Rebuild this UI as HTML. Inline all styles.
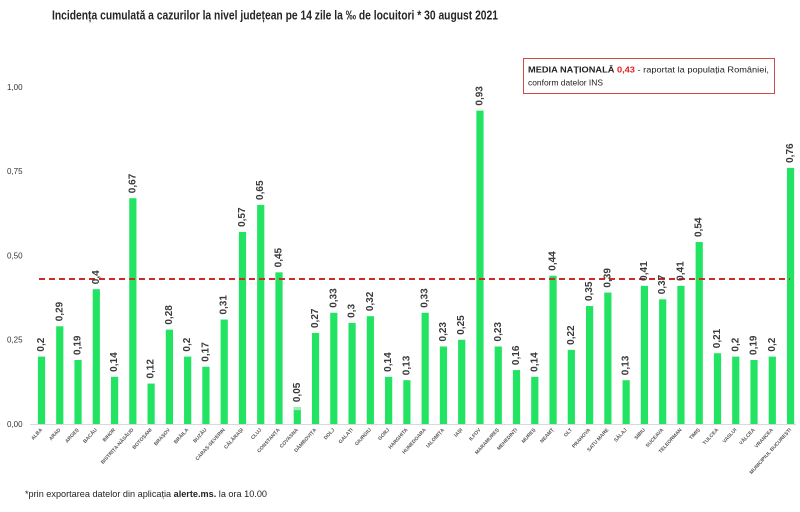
<!DOCTYPE html>
<html><head><meta charset="utf-8"><style>
html,body{margin:0;padding:0;background:#fff;}
svg{display:block;}
text{font-family:"Liberation Sans",Arial,sans-serif;}
.v{font-size:10px;font-weight:bold;fill:#3a3a3a;}
.x{font-size:5px;font-weight:bold;fill:#555;}
.y{font-size:8px;fill:#333;}
</style></head><body>
<svg width="800" height="512" viewBox="0 0 800 512" xmlns="http://www.w3.org/2000/svg">
<rect width="800" height="512" fill="#fff"/>
<text x="52" y="19.5" font-size="13" font-weight="bold" fill="#262626" textLength="446" lengthAdjust="spacingAndGlyphs">Incidența cumulată a cazurilor la nivel județean pe 14 zile la ‰ de locuitori * 30 august 2021</text>

<g class="y">
<text x="7" y="90">1,00</text>
<text x="7" y="174">0,75</text>
<text x="7" y="258.5">0,50</text>
<text x="7" y="342.5">0,25</text>
<text x="7" y="427">0,00</text>
</g>
<line x1="30" y1="424.5" x2="796" y2="424.5" stroke="#d9d9d9" stroke-width="1"/>

<g fill="#22e362">
<rect x="37.9" y="356.6" width="7.2" height="67.4"/>
<rect x="56.17" y="326.27" width="7.2" height="97.73"/>
<rect x="74.44" y="359.97" width="7.2" height="64.03"/>
<rect x="92.71" y="289.2" width="7.2" height="134.8"/>
<rect x="110.98" y="376.82" width="7.2" height="47.18"/>
<rect x="129.25" y="198.21" width="7.2" height="225.79"/>
<rect x="147.52" y="383.56" width="7.2" height="40.44"/>
<rect x="165.79" y="329.64" width="7.2" height="94.36"/>
<rect x="184.06" y="356.6" width="7.2" height="67.4"/>
<rect x="202.33" y="366.71" width="7.2" height="57.29"/>
<rect x="220.6" y="319.53" width="7.2" height="104.47"/>
<rect x="238.87" y="231.91" width="7.2" height="192.09"/>
<rect x="257.14" y="204.95" width="7.2" height="219.05"/>
<rect x="275.41" y="272.35" width="7.2" height="151.65"/>
<rect x="293.68" y="407.15" width="7.2" height="16.85"/>
<rect x="311.95" y="333.01" width="7.2" height="90.99"/>
<rect x="330.22" y="312.79" width="7.2" height="111.21"/>
<rect x="348.49" y="322.9" width="7.2" height="101.1"/>
<rect x="366.76" y="316.16" width="7.2" height="107.84"/>
<rect x="385.03" y="376.82" width="7.2" height="47.18"/>
<rect x="403.3" y="380.19" width="7.2" height="43.81"/>
<rect x="421.57" y="312.79" width="7.2" height="111.21"/>
<rect x="439.84" y="346.49" width="7.2" height="77.51"/>
<rect x="458.11" y="339.75" width="7.2" height="84.25"/>
<rect x="476.38" y="110.59" width="7.2" height="313.41"/>
<rect x="494.65" y="346.49" width="7.2" height="77.51"/>
<rect x="512.92" y="370.08" width="7.2" height="53.92"/>
<rect x="531.19" y="376.82" width="7.2" height="47.18"/>
<rect x="549.46" y="275.72" width="7.2" height="148.28"/>
<rect x="567.73" y="349.86" width="7.2" height="74.14"/>
<rect x="586" y="306.05" width="7.2" height="117.95"/>
<rect x="604.27" y="292.57" width="7.2" height="131.43"/>
<rect x="622.54" y="380.19" width="7.2" height="43.81"/>
<rect x="640.81" y="285.83" width="7.2" height="138.17"/>
<rect x="659.08" y="299.31" width="7.2" height="124.69"/>
<rect x="677.35" y="285.83" width="7.2" height="138.17"/>
<rect x="695.62" y="242.02" width="7.2" height="181.98"/>
<rect x="713.89" y="353.23" width="7.2" height="70.77"/>
<rect x="732.16" y="356.6" width="7.2" height="67.4"/>
<rect x="750.43" y="359.97" width="7.2" height="64.03"/>
<rect x="768.7" y="356.6" width="7.2" height="67.4"/>
<rect x="786.97" y="167.88" width="7.2" height="256.12"/>
</g>
<rect x="293.68" y="407.15" width="7.2" height="3" fill="#9ff0b8"/>

<line x1="39" y1="279" x2="790" y2="279" stroke="#cf2a2a" stroke-width="2" stroke-dasharray="6 4"/>

<g class="v">
<text transform="translate(44,351.6) rotate(-90)">0,2</text>
<text transform="translate(62.27,321.27) rotate(-90)">0,29</text>
<text transform="translate(80.54,354.97) rotate(-90)">0,19</text>
<text transform="translate(98.81,284.2) rotate(-90)">0,4</text>
<text transform="translate(117.08,371.82) rotate(-90)">0,14</text>
<text transform="translate(135.35,193.21) rotate(-90)">0,67</text>
<text transform="translate(153.62,378.56) rotate(-90)">0,12</text>
<text transform="translate(171.89,324.64) rotate(-90)">0,28</text>
<text transform="translate(190.16,351.6) rotate(-90)">0,2</text>
<text transform="translate(208.43,361.71) rotate(-90)">0,17</text>
<text transform="translate(226.7,314.53) rotate(-90)">0,31</text>
<text transform="translate(244.97,226.91) rotate(-90)">0,57</text>
<text transform="translate(263.24,199.95) rotate(-90)">0,65</text>
<text transform="translate(281.51,267.35) rotate(-90)">0,45</text>
<text transform="translate(299.78,402.15) rotate(-90)">0,05</text>
<text transform="translate(318.05,328.01) rotate(-90)">0,27</text>
<text transform="translate(336.32,307.79) rotate(-90)">0,33</text>
<text transform="translate(354.59,317.9) rotate(-90)">0,3</text>
<text transform="translate(372.86,311.16) rotate(-90)">0,32</text>
<text transform="translate(391.13,371.82) rotate(-90)">0,14</text>
<text transform="translate(409.4,375.19) rotate(-90)">0,13</text>
<text transform="translate(427.67,307.79) rotate(-90)">0,33</text>
<text transform="translate(445.94,341.49) rotate(-90)">0,23</text>
<text transform="translate(464.21,334.75) rotate(-90)">0,25</text>
<text transform="translate(482.48,105.59) rotate(-90)">0,93</text>
<text transform="translate(500.75,341.49) rotate(-90)">0,23</text>
<text transform="translate(519.02,365.08) rotate(-90)">0,16</text>
<text transform="translate(537.29,371.82) rotate(-90)">0,14</text>
<text transform="translate(555.56,270.72) rotate(-90)">0,44</text>
<text transform="translate(573.83,344.86) rotate(-90)">0,22</text>
<text transform="translate(592.1,301.05) rotate(-90)">0,35</text>
<text transform="translate(610.37,287.57) rotate(-90)">0,39</text>
<text transform="translate(628.64,375.19) rotate(-90)">0,13</text>
<text transform="translate(646.91,280.83) rotate(-90)">0,41</text>
<text transform="translate(665.18,294.31) rotate(-90)">0,37</text>
<text transform="translate(683.45,280.83) rotate(-90)">0,41</text>
<text transform="translate(701.72,237.02) rotate(-90)">0,54</text>
<text transform="translate(719.99,348.23) rotate(-90)">0,21</text>
<text transform="translate(738.26,351.6) rotate(-90)">0,2</text>
<text transform="translate(756.53,354.97) rotate(-90)">0,19</text>
<text transform="translate(774.8,351.6) rotate(-90)">0,2</text>
<text transform="translate(793.07,162.88) rotate(-90)">0,76</text>
</g>

<g class="x" text-anchor="end">
<text transform="translate(42.5,430) rotate(-48)">ALBA</text>
<text transform="translate(60.77,430) rotate(-48)">ARAD</text>
<text transform="translate(79.04,430) rotate(-48)">ARGEȘ</text>
<text transform="translate(97.31,430) rotate(-48)">BACĂU</text>
<text transform="translate(115.58,430) rotate(-48)">BIHOR</text>
<text transform="translate(133.85,430) rotate(-48)">BISTRIȚA-NĂSĂUD</text>
<text transform="translate(152.12,430) rotate(-48)">BOTOȘANI</text>
<text transform="translate(170.39,430) rotate(-48)">BRAȘOV</text>
<text transform="translate(188.66,430) rotate(-48)">BRĂILA</text>
<text transform="translate(206.93,430) rotate(-48)">BUZĂU</text>
<text transform="translate(225.2,430) rotate(-48)">CARAȘ-SEVERIN</text>
<text transform="translate(243.47,430) rotate(-48)">CĂLĂRAȘI</text>
<text transform="translate(261.74,430) rotate(-48)">CLUJ</text>
<text transform="translate(280.01,430) rotate(-48)">CONSTANȚA</text>
<text transform="translate(298.28,430) rotate(-48)">COVASNA</text>
<text transform="translate(316.55,430) rotate(-48)">DÂMBOVIȚA</text>
<text transform="translate(334.82,430) rotate(-48)">DOLJ</text>
<text transform="translate(353.09,430) rotate(-48)">GALAȚI</text>
<text transform="translate(371.36,430) rotate(-48)">GIURGIU</text>
<text transform="translate(389.63,430) rotate(-48)">GORJ</text>
<text transform="translate(407.9,430) rotate(-48)">HARGHITA</text>
<text transform="translate(426.17,430) rotate(-48)">HUNEDOARA</text>
<text transform="translate(444.44,430) rotate(-48)">IALOMIȚA</text>
<text transform="translate(462.71,430) rotate(-48)">IAȘI</text>
<text transform="translate(480.98,430) rotate(-48)">ILFOV</text>
<text transform="translate(499.25,430) rotate(-48)">MARAMUREȘ</text>
<text transform="translate(517.52,430) rotate(-48)">MEHEDINȚI</text>
<text transform="translate(535.79,430) rotate(-48)">MUREȘ</text>
<text transform="translate(554.06,430) rotate(-48)">NEAMȚ</text>
<text transform="translate(572.33,430) rotate(-48)">OLT</text>
<text transform="translate(590.6,430) rotate(-48)">PRAHOVA</text>
<text transform="translate(608.87,430) rotate(-48)">SATU MARE</text>
<text transform="translate(627.14,430) rotate(-48)">SĂLAJ</text>
<text transform="translate(645.41,430) rotate(-48)">SIBIU</text>
<text transform="translate(663.68,430) rotate(-48)">SUCEAVA</text>
<text transform="translate(681.95,430) rotate(-48)">TELEORMAN</text>
<text transform="translate(700.22,430) rotate(-48)">TIMIȘ</text>
<text transform="translate(718.49,430) rotate(-48)">TULCEA</text>
<text transform="translate(736.76,430) rotate(-48)">VASLUI</text>
<text transform="translate(755.03,430) rotate(-48)">VÂLCEA</text>
<text transform="translate(773.3,430) rotate(-48)">VRANCEA</text>
<text transform="translate(791.57,430) rotate(-48)">MUNICIPIUL BUCUREȘTI</text>
</g>

<rect x="523.5" y="58.5" width="251" height="35" fill="#fff" stroke="#d24b4b" stroke-width="1"/>
<text x="528" y="72.5" font-size="8.5" fill="#222" textLength="241" lengthAdjust="spacingAndGlyphs"><tspan font-weight="bold">MEDIA NAȚIONALĂ </tspan><tspan font-weight="bold" fill="#e02020">0,43</tspan><tspan> - raportat la populația României,</tspan></text>
<text x="528" y="85.5" font-size="8.5" fill="#222" textLength="75" lengthAdjust="spacingAndGlyphs">conform datelor INS</text>

<text x="25" y="497" font-size="9.5" fill="#222" textLength="242" lengthAdjust="spacingAndGlyphs">*prin exportarea datelor din aplicația <tspan font-weight="bold">alerte.ms.</tspan> la ora 10.00</text>
</svg>
</body></html>
